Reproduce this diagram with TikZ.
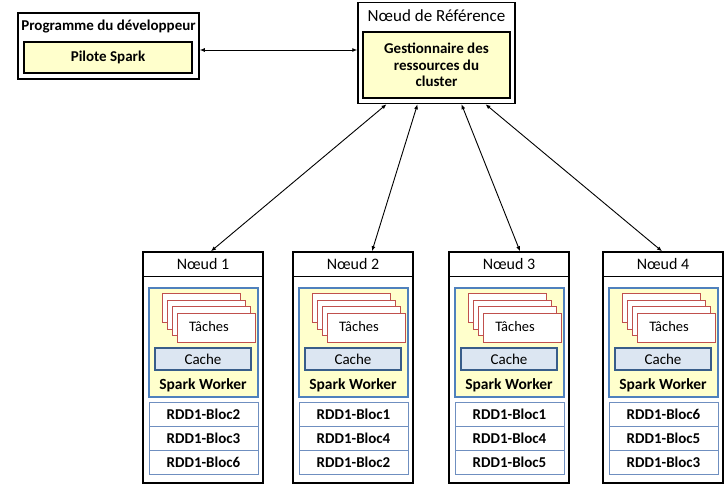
\documentclass[tikz,border=0pt]{standalone}
\usepackage{fontspec}
\setmainfont{Carlito}
\usetikzlibrary{arrows.meta}

\definecolor{jaune}{HTML}{FFFFCC}
\definecolor{bleuw}{HTML}{4F81BD}
\definecolor{bleuc}{HTML}{DCE6F2}
\definecolor{bleucb}{HTML}{385D8A}
\definecolor{rouget}{HTML}{C0504D}
\definecolor{bleur}{HTML}{6F8FC0}

\tikzset{
  gras/.style={font=\fontsize{15}{16.5}\selectfont\bfseries},
  normal/.style={font=\fontsize{14.5}{16.5}\selectfont},
  titre/.style={font=\fontsize{16}{18}\selectfont},
  boite/.style={draw, line width=1.5pt, inner sep=0pt},
  jaunebox/.style={draw, fill=jaune, line width=1.2pt, inner sep=0pt, gras},
  worker/.style={draw=bleuw, fill=jaune, line width=1.5pt, inner sep=0pt},
  carte/.style={draw=rouget, fill=white, line width=1.2pt, inner sep=0pt},
  cachebox/.style={draw=bleucb, fill=bleuc, line width=1.5pt, inner sep=0pt, font=\fontsize{15}{16.5}\selectfont},
  rdd/.style={draw=bleur, line width=0.8pt, inner sep=0pt, gras},
  lien/.style={{Latex[length=5pt,width=4pt]}-{Latex[length=5pt,width=4pt]}, line width=0.9pt}
}

\begin{document}
\begin{tikzpicture}[x=1pt, y=-1pt]  % 1 unité = 1 pixel, y vers le bas

    \useasboundingbox (0,0) rectangle (725,487);

    % 程序员的程序
    \node[boite, minimum width=181pt, minimum height=66pt] (dev) at (108.5,46) {};
    \node[gras] (devtitre) at (108.5,27) {Programme du développeur};
    \node[jaunebox, minimum width=168pt, minimum height=31pt] (pilote) at (108,57.5) {Pilote Spark};

    % 主节点
    \node[boite, minimum width=157pt, minimum height=101pt] (ref) at (436.5,53) {};
    \node[titre, font=\fontsize{17}{19}\selectfont] (reftitre) at (436.5,16) {Nœud de Référence};
    \node[jaunebox, minimum width=147pt, minimum height=66pt, align=center] (gest) at (436.5,65)
        {Gestionnaire des\\ressources du\\cluster};

    % 四个工作节点
    \foreach \i/\x/\a/\b/\c in {1/143/2/3/6, 2/293/1/4/2, 3/449/1/4/5, 4/603/6/5/3} {
        \node[boite, minimum width=120pt, minimum height=231pt] (n\i) at (\x+60,367.5) {};
        \node[draw, line width=0.6pt, minimum width=120pt, minimum height=24pt, titre] (t\i) at (\x+60,264) {Nœud \i};
        \node[worker, minimum width=109pt, minimum height=109pt] (w\i) at (\x+60.5,342.5) {};
        % 任务卡片
        \foreach \k in {0,...,3}
            \node[carte, minimum width=78pt, minimum height=29pt, anchor=north west] (c\i\k) at (\x+19+5*\k,293+6.5*\k) {};
        \node[normal] (tache\i) at (\x+66,326.5) {Tâches};
        \node[cachebox, minimum width=96pt, minimum height=22pt] (cache\i) at (\x+60,359) {Cache};
        \node[gras, font=\fontsize{15.5}{17}\selectfont\bfseries] (sw\i) at (\x+60,385) {Spark Worker};
        % RDD 块
        \node[rdd, minimum width=109pt, minimum height=24pt] (ra\i) at (\x+60.5,414) {RDD1-Bloc\a};
        \node[rdd, minimum width=109pt, minimum height=24pt] (rb\i) at (\x+60.5,438) {RDD1-Bloc\b};
        \node[rdd, minimum width=109pt, minimum height=24pt] (rc\i) at (\x+60.5,462) {RDD1-Bloc\c};
    }

    % 双向箭头
    \draw[lien] ([yshift=-4pt]dev.east) -- ([yshift=3pt]ref.west);
    \draw[lien] ([xshift=-50pt]ref.south) -- ([xshift=8pt]n1.north);
    \draw[lien] ([xshift=-19pt]ref.south) -- ([xshift=19pt]n2.north);
    \draw[lien] ([xshift=25pt]ref.south) -- ([xshift=11pt]n3.north);
    \draw[lien] ([xshift=49pt]ref.south) -- ([xshift=-1pt]n4.north);

\end{tikzpicture}
\end{document}
